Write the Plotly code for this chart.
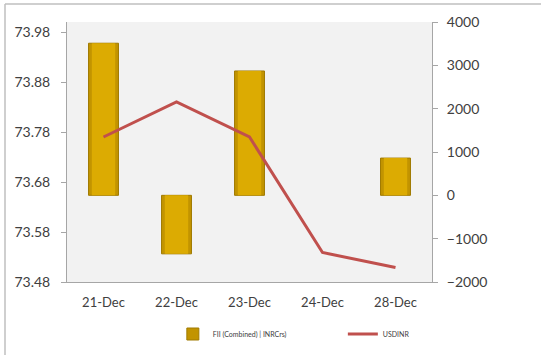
import plotly.graph_objects as go

dates = ["21-Dec", "22-Dec", "23-Dec", "24-Dec", "28-Dec"]
fii_flows = [3510, -1350, 2870, None, 860]
usdinr = [73.77, 73.84, 73.77, 73.539, 73.509]

left_ticks = [73.48, 73.58, 73.68, 73.78, 73.88, 73.98]
right_ticks = [-2000, -1000, 0, 1000, 2000, 3000, 4000]

FONT = "Lato"
TXT = "#404040"
AX = "#A6A6A6"

fig = go.Figure()
fig.add_trace(go.Bar(
    x=dates, y=fii_flows, name="FII (Combined) | INRCrs)",
    marker=dict(color="#C29400", line=dict(color="#A07A00", width=1)),
    width=0.41, yaxis="y",
))
fig.add_trace(go.Bar(
    x=dates, y=fii_flows, showlegend=False, hoverinfo="skip",
    marker=dict(color="#DCAB02", line=dict(width=0)),
    width=0.32, yaxis="y",
))
fig.add_trace(go.Scatter(
    x=dates, y=usdinr, name="USDINR", mode="lines",
    line=dict(color="#C0504D", width=3), yaxis="y2",
))

fig.update_layout(
    width=541, height=355,
    margin=dict(l=67, r=109, t=22, b=73, autoexpand=False),
    paper_bgcolor="white", plot_bgcolor="#F2F2F2",
    font=dict(family=FONT, color=TXT),
    barmode="overlay",
    showlegend=True,
    legend=dict(orientation="h", x=0.29, xanchor="left", y=-0.2, yanchor="middle",
                font=dict(size=7, color=TXT), bgcolor="rgba(0,0,0,0)",
                itemwidth=30, tracegroupgap=0, entrywidth=125, entrywidthmode="pixels"),
    xaxis=dict(type="category", showgrid=False, showline=True, linecolor=AX, linewidth=1,
               ticks="", tickfont=dict(size=13, color=TXT), ticklabelstandoff=8,
               range=[-0.5, 4.5], automargin=False),
    yaxis=dict(side="right", range=[-2000, 4000], tickvals=right_ticks,
               showgrid=False, zeroline=False, showline=True, linecolor=AX, linewidth=1,
               ticks="outside", ticklen=5, tickcolor=AX, tickfont=dict(size=14, color=TXT),
               ticklabelstandoff=6, automargin=False),
    yaxis2=dict(side="left", overlaying="y", range=[73.48, 74.0], tickvals=left_ticks,
                tickformat=".2f", showgrid=False, zeroline=False, showline=True,
                linecolor=AX, linewidth=1, ticks="outside", ticklen=5, tickcolor=AX,
                tickfont=dict(size=14, color=TXT), ticklabelstandoff=8, automargin=False),
    shapes=[
        dict(type="line", xref="paper", yref="paper", x0=-62/365, x1=474/365,
             y0=278/260, y1=278/260, line=dict(color="#BFBFBF", width=1.5)),
        dict(type="line", xref="paper", yref="paper", x0=-62/365, x1=-62/365,
             y0=278/260, y1=-73/260, line=dict(color="#BFBFBF", width=1.5)),
    ],
)

fig.write_html("out.html")
